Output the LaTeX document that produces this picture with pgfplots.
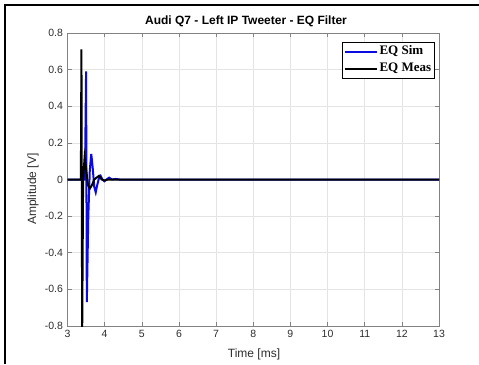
\documentclass[border=0pt]{standalone}
\usepackage{pgfplots}
\pgfplotsset{compat=1.18}
\usepackage{fontspec}
\setmainfont{Liberation Sans}
\newfontfamily\serifb{Liberation Serif}
\definecolor{simblue}{RGB}{10,10,225}
\definecolor{axgray}{RGB}{130,130,130}
\definecolor{gridgray}{RGB}{228,228,228}
\definecolor{txt}{RGB}{45,45,45}
\begin{document}
\begin{tikzpicture}[x=1bp,y=1bp]
\path[use as bounding box] (0,0) rectangle (479,364);
\draw[line width=2bp] (4.5,0) -- (4.5,359) -- (479,359);
\begin{axis}[
  at={(67.5bp,38bp)}, anchor=south west,
  scale only axis, width=371.5bp, height=293bp,
  xmin=3, xmax=13, ymin=-0.8, ymax=0.8,
  xtick={3,4,...,13}, ytick={-0.8,-0.6,-0.4,-0.2,0,0.2,0.4,0.6,0.8},
  yticklabels={-0.8,-0.6,-0.4,-0.2,0,0.2,0.4,0.6,0.8},
  tick align=inside, xtick pos=both, ytick pos=both,
  major tick length=4bp,
  grid=major, grid style={gridgray, line width=0.6bp},
  axis line style={axgray, line width=0.8bp},
  tick style={axgray, line width=0.6bp},
  /pgf/number format/assume math mode=true,
  tick label style={font=\fontsize{10.5bp}{12bp}\selectfont, text=txt},
  xticklabel style={yshift=-0.5bp},
  yticklabel style={xshift=-1bp},
  legend style={at={(0.988,0.970)}, anchor=north east, draw=black, line width=0.8bp,
    font=\serifb\bfseries\fontsize{13bp}{15bp}\selectfont, inner sep=1bp, row sep=0bp,
    nodes={inner sep=2bp, text height=9.5bp, text depth=3.5bp},
    cells={anchor=west}},
  legend image code/.code={\draw[#1] (0bp,0bp) -- (32bp,0bp);},
]
\addplot[simblue, line width=2bp] coordinates {
(3,0) (3.47,0) (3.50,0.59) (3.52,-0.67) (3.56,-0.20) (3.60,0.05) (3.64,0.14)
(3.68,0.06) (3.72,-0.04) (3.76,-0.07) (3.80,-0.03) (3.85,0.01) (3.89,0.02)
(3.94,0.0) (3.99,-0.01) (4.05,0.0) (4.12,0.01) (4.20,0) (4.30,0.003) (4.40,0) (13,0)};
\addlegendentry{EQ Sim}
\addplot[black, line width=2bp] coordinates {
(3,0) (3.36,0) (3.375,0.71) (3.395,-0.85) (3.42,0.0) (3.46,0.12) (3.50,0.06)
(3.55,-0.03) (3.60,-0.05) (3.66,-0.03) (3.72,0.0) (3.78,0.01) (3.85,0.02)
(3.92,0.0) (4.0,-0.005) (4.1,0) (13,0)};
\addlegendentry{EQ Meas}
\end{axis}
\node[font=\bfseries\fontsize{12bp}{14bp}\selectfont, text=black] at (246,343) {Audi Q7 - Left IP Tweeter - EQ Filter};
\node[font=\fontsize{12bp}{14bp}\selectfont, text=txt] at (254,10) {Time [ms]};
\node[font=\fontsize{12bp}{14bp}\selectfont, text=txt, rotate=90] at (33,175) {Amplitude [V]};
\end{tikzpicture}
\end{document}
